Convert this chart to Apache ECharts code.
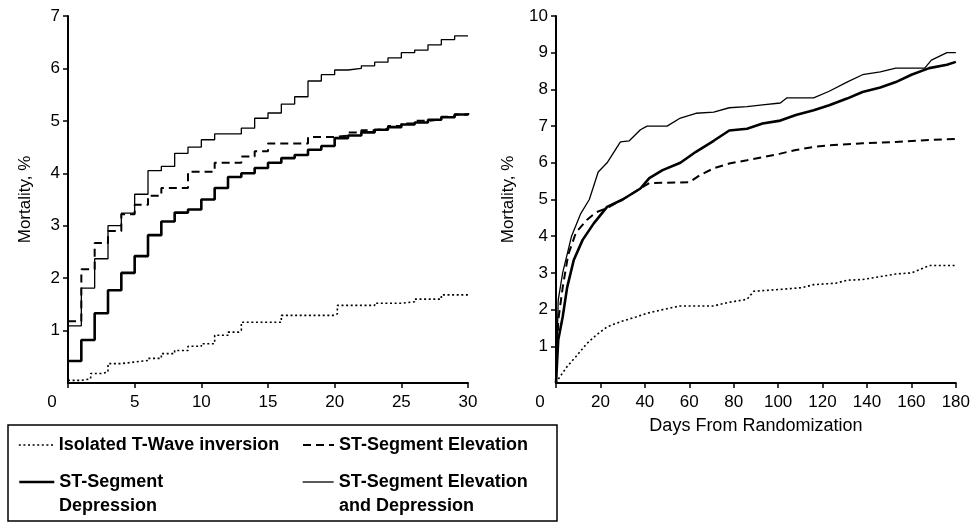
<!DOCTYPE html>
<html>
<head>
<meta charset="utf-8">
<script src="https://cdn.jsdelivr.net/npm/echarts@6/dist/echarts.min.js"></script>
<style>html,body{margin:0;padding:0;background:#fff}#c{width:973px;height:524px}</style>
</head>
<body>
<div id="c"></div>
<script>
// ---- names ----
const seriesNames = ['Isolated T-Wave inversion', 'ST-Segment Elevation', 'ST-Segment Depression', 'ST-Segment Elevation and Depression'];
// legend text, split into first line (beside the icon) and second line
const legendLine1 = ['Isolated T-Wave inversion', 'ST-Segment Elevation', 'ST-Segment', 'ST-Segment Elevation'];
const legendLine2 = ['', '', 'Depression', 'and Depression'];

// ---- left panel (days 0-30), [day, mortality %] step points ----
const leftIsolated = [[0,0.05],[1,0.08],[1.7,0.18],[2.5,0.21],[3,0.37],[4,0.4],[5,0.43],[6,0.47],[7,0.56],[8,0.62],[9,0.7],[10,0.75],[11,0.91],[12,0.97],[12.8,1.0],[13,1.16],[16,1.29],[20,1.32],[20.2,1.48],[23,1.52],[25,1.55],[26,1.6],[28,1.68],[30,1.7]];
const leftElevation = [[0,1.18],[1,2.17],[2,2.67],[3,2.9],[4,3.22],[5,3.4],[6,3.57],[7,3.72],[9,4.03],[11,4.2],[13,4.32],[14,4.42],[15,4.57],[18,4.69],[20,4.72],[21,4.78],[22,4.82],[23,4.85],[24,4.9],[25,4.95],[26,5.0],[27,5.03],[28,5.08],[29,5.12],[30,5.15]];
const leftDepression = [[0,0.42],[1,0.82],[2,1.33],[3,1.77],[4,2.1],[5,2.42],[6,2.82],[7,3.08],[8,3.25],[9,3.31],[10,3.5],[11,3.72],[12,3.93],[13,4.0],[14,4.1],[15,4.2],[16,4.29],[17,4.35],[18,4.45],[19,4.52],[20,4.67],[21,4.72],[22,4.78],[23,4.83],[24,4.88],[25,4.93],[26,4.97],[27,5.02],[28,5.07],[29,5.12],[30,5.15]];
const leftElevDep = [[0,1.09],[1,1.81],[2,2.37],[3,3.0],[4,3.24],[5,3.6],[6,4.05],[7,4.13],[8,4.38],[9,4.5],[10,4.64],[11,4.75],[13,4.86],[14,5.05],[15,5.15],[16,5.32],[17,5.46],[18,5.76],[19,5.88],[20,5.97],[21,6.0],[22,6.05],[23,6.12],[24,6.2],[25,6.3],[26,6.35],[27,6.45],[28,6.55],[29,6.62],[30,6.62]];

// ---- right panel (days 0-180) ----
const rightIsolated = [[0,0],[1,0.1],[5,0.45],[9,0.72],[14,1.08],[18,1.3],[23,1.53],[29,1.67],[36,1.8],[41,1.9],[48,2.0],[56,2.1],[71,2.1],[78,2.2],[86,2.28],[89,2.5],[101,2.55],[111,2.6],[116,2.68],[126,2.72],[131,2.8],[138,2.82],[146,2.9],[153,2.97],[160,3.0],[168,3.2],[180,3.2]];
const rightElevation = [[0,0],[1,1.7],[3,2.6],[5.5,3.5],[9,4.1],[14,4.45],[18,4.65],[23,4.77],[30,5.0],[38,5.3],[42,5.45],[60,5.47],[65,5.67],[71,5.85],[78,5.98],[86,6.07],[93,6.15],[101,6.25],[108,6.35],[116,6.43],[123,6.48],[138,6.53],[153,6.57],[168,6.62],[180,6.65]];
const rightDepression = [[0,0],[1,1.17],[3,1.8],[5,2.6],[8,3.35],[12,3.9],[17,4.35],[23,4.8],[30,5.0],[38,5.3],[42,5.58],[48,5.8],[56,6.0],[63,6.3],[71,6.6],[78,6.88],[86,6.93],[93,7.07],[101,7.15],[108,7.3],[116,7.43],[123,7.57],[131,7.75],[138,7.93],[146,8.05],[153,8.2],[160,8.4],[168,8.58],[176,8.67],[180,8.75]];
const rightElevDep = [[0,0],[1,2.26],[3,3.0],[7,4.0],[11,4.6],[15,5.0],[19,5.75],[23,6.0],[29,6.57],[33,6.6],[38,6.9],[41,7.0],[50,7.0],[56,7.22],[63,7.35],[71,7.38],[78,7.5],[86,7.53],[93,7.58],[101,7.63],[104,7.77],[116,7.77],[123,7.95],[131,8.2],[138,8.4],[146,8.48],[153,8.58],[166,8.58],[169,8.8],[176,9.0],[180,9.0]];

// ---- axis text ----
const yAxisTitle = 'Mortality, %';
const xAxisTitleRight = 'Days From Randomization';

const FONT = '"Liberation Sans", Arial, Helvetica, sans-serif';
const lineStyles = [
  {color:'#000', width:1.6, type:[2,2.6]},
  {color:'#000', width:2, type:[8,5]},
  {color:'#000', width:2.6, type:'solid'},
  {color:'#000', width:1.3, type:'solid'}
];
const leftData = [leftIsolated, leftElevation, leftDepression, leftElevDep];
const rightData = [rightIsolated, rightElevation, rightDepression, rightElevDep];

function axisCommon() {
  return {
    axisLine: {show:true, onZero:false, lineStyle:{color:'#000', width:2}},
    axisTick: {show:true, inside:false, length:5, lineStyle:{color:'#000', width:1.5}},
    splitLine: {show:false},
    axisLabel: {color:'#000', fontSize:17, fontFamily:FONT}
  };
}
function xAxisDef(gi, max, interval, extra) {
  const a = axisCommon();
  a.axisLabel.margin = 11;
  a.axisLabel.formatter = v => v === 0 ? '{z|0}' : String(v);
  a.axisLabel.rich = {z:{padding:[0,32,0,0], fontSize:17, color:'#000', fontFamily:FONT}};
  return Object.assign({type:'value', gridIndex:gi, min:0, max:max, interval:interval}, a, extra||{});
}
function yAxisDef(gi, max, nameGap) {
  const a = axisCommon();
  a.axisLabel.margin = 8;
  a.axisLabel.showMinLabel = false;
  return Object.assign({type:'value', gridIndex:gi, min:0, max:max, interval:1,
    name:yAxisTitle, nameLocation:'middle', nameGap:nameGap,
    nameTextStyle:{color:'#000', fontSize:17, fontFamily:FONT}}, a);
}

const series = [];
seriesNames.forEach((n, i) => {
  series.push({name:n, type:'line', xAxisIndex:0, yAxisIndex:0, data:leftData[i], step:'end',
    symbol:'none', lineStyle:lineStyles[i], itemStyle:{color:'#000'}, z: 3 + i});
  series.push({name:n, type:'line', xAxisIndex:1, yAxisIndex:1, data:rightData[i],
    symbol:'none', lineStyle:lineStyles[i], itemStyle:{color:'#000'}, z: 3 + i});
});

const legTxt = {color:'#000', fontSize:18, fontWeight:'bold', fontFamily:FONT};
const legendBase = {orient:'horizontal', padding:0, itemHeight:14, selectedMode:false,
  lineStyle:{width:'inherit', type:'inherit'}, itemStyle:{opacity:0, color:'rgba(0,0,0,0)', borderWidth:0},
  textStyle:legTxt};
const legendPos = [[18,436,35],[302,436,31],[18,473,35],[302,473,31]];

const option = {
  animation:false,
  backgroundColor:'#fff',
  textStyle:{fontFamily:FONT},
  grid:[
    {left:68, top:16, width:400, height:367},
    {left:556, top:16, width:401, height:367}
  ],
  xAxis:[
    xAxisDef(0, 30, 5),
    xAxisDef(1, 180, 20, {name:xAxisTitleRight, nameLocation:'middle', nameGap:34,
      nameTextStyle:{color:'#000', fontSize:18, fontFamily:FONT}})
  ],
  yAxis:[ yAxisDef(0, 7, 34), yAxisDef(1, 10, 39) ],
  legend: seriesNames.map((n, i) => Object.assign({}, legendBase, {
    data:[n], left:legendPos[i][0], top:legendPos[i][1], itemWidth:legendPos[i][2],
    formatter:() => legendLine1[i]
  })),
  graphic:[
    {type:'rect', shape:{x:8, y:425, width:549, height:96}, style:{fill:'none', stroke:'#000', lineWidth:1.5}, silent:true},
    {type:'text', left:59, top:497, silent:true,
      style:{text:legendLine2[2], fill:'#000', fontSize:18, fontWeight:'bold', fontFamily:FONT}},
    {type:'text', left:339, top:497, silent:true,
      style:{text:legendLine2[3], fill:'#000', fontSize:18, fontWeight:'bold', fontFamily:FONT}}
  ],
  series: series
};

const chart = echarts.init(document.getElementById('c'), null, {renderer:'canvas'});
chart.setOption(option);
</script>
</body>
</html>
